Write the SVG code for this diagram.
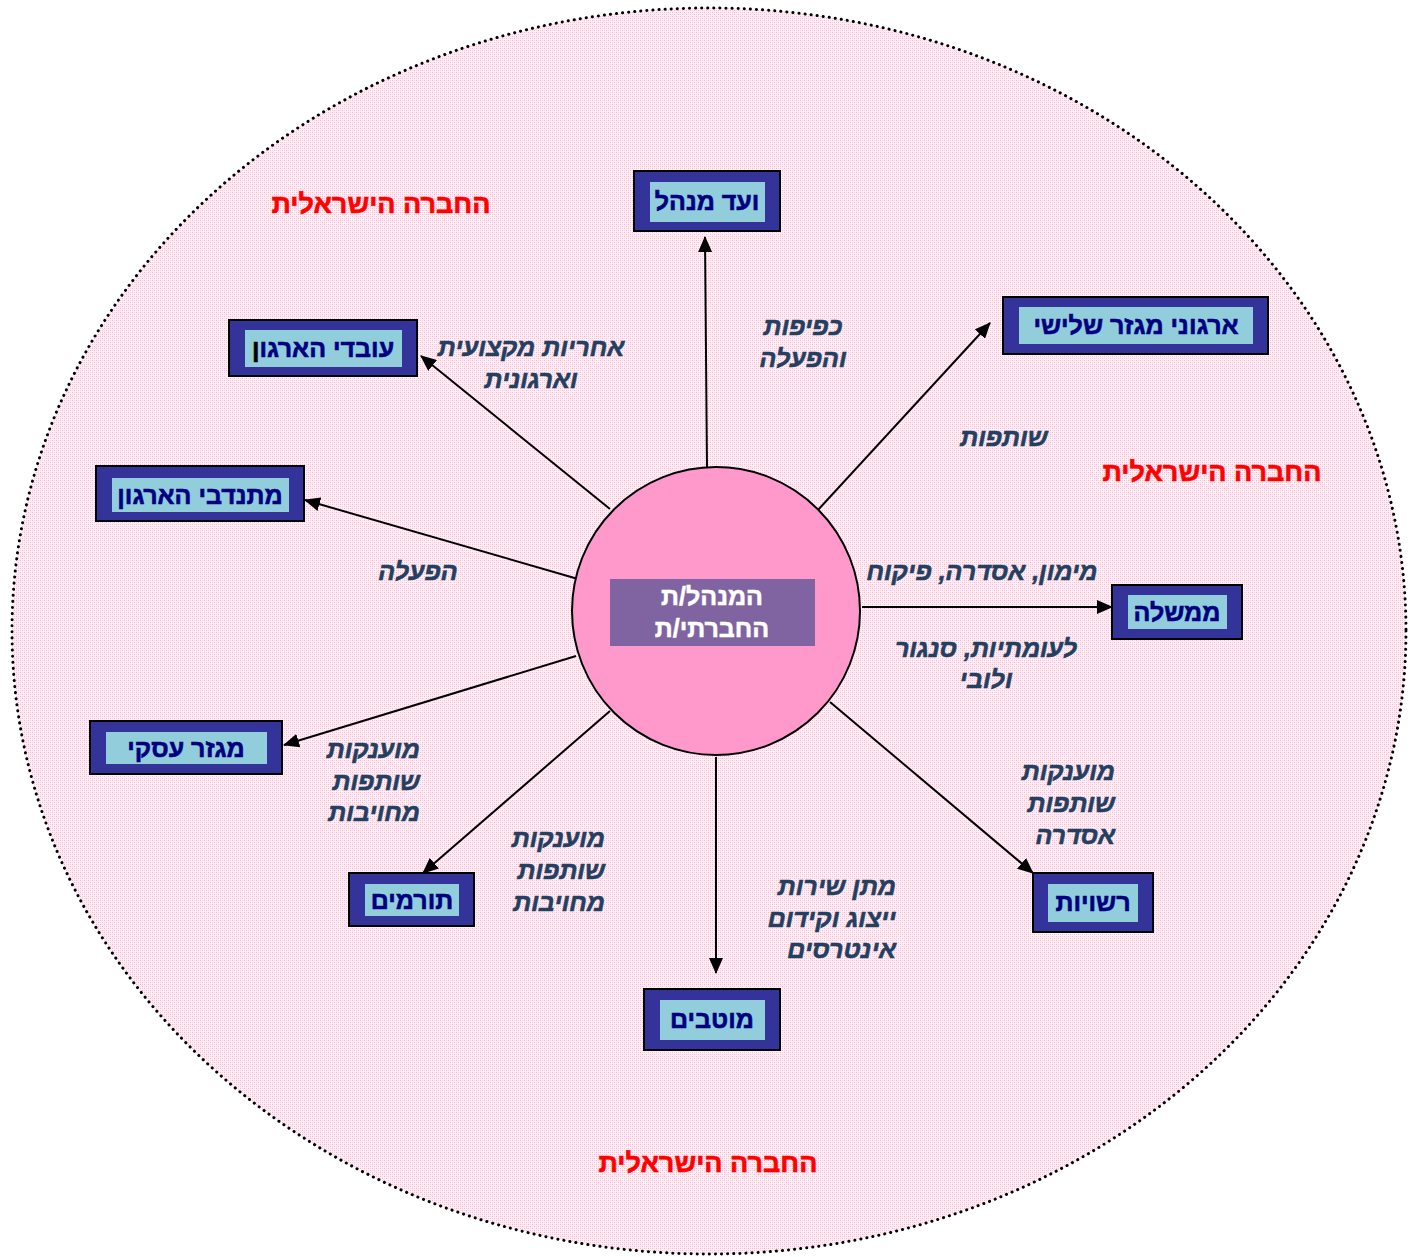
<svg xmlns="http://www.w3.org/2000/svg" width="1420" height="1257" viewBox="0 0 1420 1257">
<style>
.bg{fill:url(#pk);stroke:#000;stroke-width:3;stroke-dasharray:0.1 6;stroke-linecap:round}
.outer{fill:#333399;stroke:#000;stroke-width:2}
.inner{fill:#92CDDC}
.nt{font-family:"Liberation Sans",Arial,sans-serif;font-weight:bold;font-size:25px;fill:#000080;stroke:#000080;stroke-width:0.6;text-anchor:middle}
.lb{font-family:"Liberation Sans",Arial,sans-serif;font-weight:bold;font-style:italic;font-size:25px;fill:#243F60;stroke:#243F60;stroke-width:0.6}
.red{font-family:"Liberation Sans",Arial,sans-serif;font-weight:bold;font-size:27px;fill:#FF0000;stroke:#FF0000;stroke-width:0.6;text-anchor:middle}
.ct{font-family:"Liberation Sans",Arial,sans-serif;font-weight:bold;font-size:25px;fill:#FFFFFF;stroke:#FFFFFF;stroke-width:0.5;text-anchor:middle}
.cn{stroke:#000;stroke-width:2;fill:none;marker-end:url(#ah)}
</style>
<defs>
<pattern id="pk" width="4" height="4" patternUnits="userSpaceOnUse">
<rect width="4" height="4" fill="#ffeef5"/>
<rect x="0" y="0" width="1" height="1" fill="#f5b8d2"/>
<rect x="2" y="2" width="1" height="1" fill="#f5b8d2"/>
<rect x="2" y="0" width="1" height="1" fill="#f9d3e3"/>
<rect x="0" y="2" width="1" height="1" fill="#f9d3e3"/>
</pattern>
<marker id="ah" markerUnits="userSpaceOnUse" markerWidth="16" markerHeight="14" refX="15" refY="7" orient="auto">
<path d="M0,0 L16,7 L0,14 Z" fill="#000"/>
</marker>
</defs>
<rect width="1420" height="1257" fill="#fff"/>
<ellipse class="bg" cx="709" cy="631" rx="697" ry="623"/>

<text class="red" x="381" y="213">החברה הישראלית</text>
<text class="red" x="1212" y="481">החברה הישראלית</text>
<text class="red" x="708" y="1172">החברה הישראלית</text>

<g id="connectors">
<line class="cn" x1="707" y1="468" x2="705" y2="237"/>
<line class="cn" x1="818" y1="510" x2="990" y2="323"/>
<line class="cn" x1="862" y1="607" x2="1112" y2="607"/>
<line class="cn" x1="830" y1="702" x2="1033" y2="873"/>
<line class="cn" x1="716" y1="757" x2="716" y2="973"/>
<line class="cn" x1="610" y1="711" x2="423" y2="873"/>
<line class="cn" x1="576" y1="656" x2="284" y2="745"/>
<line class="cn" x1="578" y1="579" x2="305" y2="500"/>
<line class="cn" x1="610" y1="509" x2="421" y2="356"/>
</g>

<g id="center">
<circle cx="716" cy="611" r="144" fill="#FF99CC" stroke="#000" stroke-width="2"/>
<rect x="610" y="579" width="205" height="67" fill="#8064A2"/>
<text class="ct" x="712" y="605">המנהל/ת</text>
<text class="ct" x="712" y="637">החברתי/ת</text>
</g>

<g id="n-vaad">
<rect class="outer" x="634" y="171" width="146" height="60"/>
<rect class="inner" x="650" y="182" width="115" height="40"/>
<text class="nt" x="707" y="210">ועד מנהל</text>
</g>
<g id="n-ovdim">
<rect class="outer" x="229" y="320" width="188" height="56"/>
<rect class="inner" x="245" y="330" width="157" height="37"/>
<text class="nt" x="323" y="357">עובדי הארגו<tspan fill="#000" stroke="#000">ן</tspan></text>
</g>
<g id="n-mitnadvim">
<rect class="outer" x="96" y="466" width="208" height="55"/>
<rect class="inner" x="112" y="478" width="177" height="34"/>
<text class="nt" x="200" y="504">מתנדבי הארגון</text>
</g>
<g id="n-shlishi">
<rect class="outer" x="1003" y="297" width="265" height="57"/>
<rect class="inner" x="1019" y="307" width="234" height="37"/>
<text class="nt" x="1136" y="334">ארגוני מגזר שלישי</text>
</g>
<g id="n-memshala">
<rect class="outer" x="1112" y="585" width="130" height="54"/>
<rect class="inner" x="1128" y="595" width="99" height="34"/>
<text class="nt" x="1177" y="621">ממשלה</text>
</g>
<g id="n-iski">
<rect class="outer" x="90" y="721" width="192" height="53"/>
<rect class="inner" x="106" y="732" width="161" height="32"/>
<text class="nt" x="186" y="757">מגזר עסקי</text>
</g>
<g id="n-tormim">
<rect class="outer" x="349" y="873" width="125" height="53"/>
<rect class="inner" x="365" y="884" width="94" height="32"/>
<text class="nt" x="412" y="909">תורמים</text>
</g>
<g id="n-rashuyot">
<rect class="outer" x="1033" y="873" width="120" height="59"/>
<rect class="inner" x="1048" y="884" width="90" height="38"/>
<text class="nt" x="1093" y="911">רשויות</text>
</g>
<g id="n-mutavim">
<rect class="outer" x="644" y="989" width="136" height="61"/>
<rect class="inner" x="660" y="1000" width="105" height="40"/>
<text class="nt" x="712" y="1028">מוטבים</text>
</g>

<g id="labels">
<text class="lb" x="803" y="335" text-anchor="middle">כפיפות</text>
<text class="lb" x="803" y="367" text-anchor="middle">והפעלה</text>
<text class="lb" x="531" y="356" text-anchor="middle">אחריות מקצועית</text>
<text class="lb" x="531" y="388" text-anchor="middle">וארגונית</text>
<text class="lb" x="1004" y="446" text-anchor="middle">שותפות</text>
<text class="lb" x="418" y="580" text-anchor="middle">הפעלה</text>
<text class="lb" x="982" y="580" text-anchor="middle">מימון, אסדרה, פיקוח</text>
<text class="lb" x="986" y="657" text-anchor="middle">לעומתיות, סנגור</text>
<text class="lb" x="986" y="688" text-anchor="middle">ולובי</text>
<text class="lb" x="1115" y="780" text-anchor="end">מוענקות</text>
<text class="lb" x="1115" y="812" text-anchor="end">שותפות</text>
<text class="lb" x="1115" y="844" text-anchor="end">אסדרה</text>
<text class="lb" x="896" y="895" text-anchor="end">מתן שירות</text>
<text class="lb" x="896" y="927" text-anchor="end">ייצוג וקידום</text>
<text class="lb" x="896" y="958" text-anchor="end">אינטרסים</text>
<text class="lb" x="420" y="758" text-anchor="end">מוענקות</text>
<text class="lb" x="420" y="790" text-anchor="end">שותפות</text>
<text class="lb" x="420" y="821" text-anchor="end">מחויבות</text>
<text class="lb" x="605" y="847" text-anchor="end">מוענקות</text>
<text class="lb" x="605" y="879" text-anchor="end">שותפות</text>
<text class="lb" x="605" y="911" text-anchor="end">מחויבות</text>
</g>
</svg>
